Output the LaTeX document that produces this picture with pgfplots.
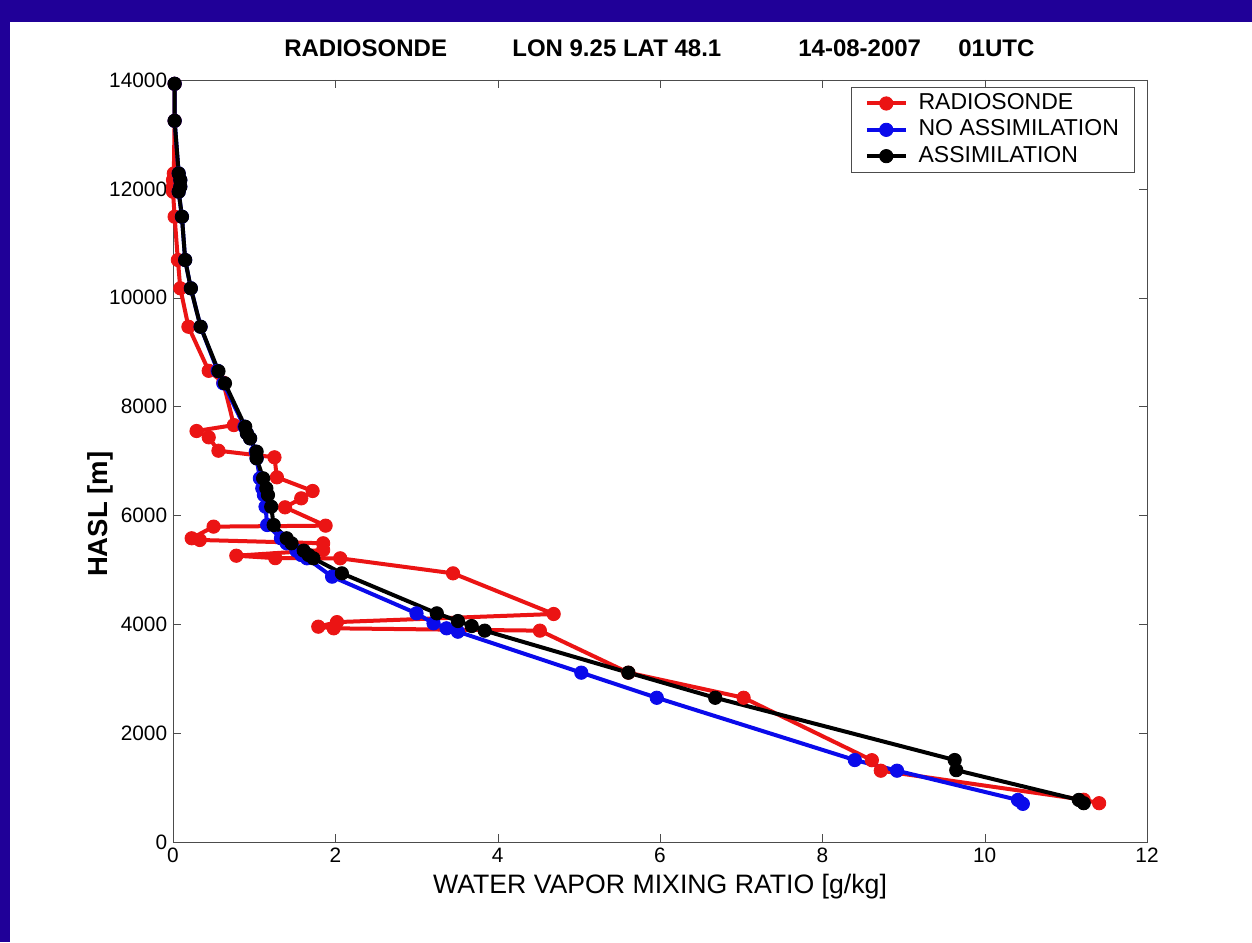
\documentclass[border=0pt]{standalone}
\usepackage{fontspec}
\setmainfont{Liberation Sans}
\usepackage{pgfplots}
\pgfplotsset{compat=1.18}
\definecolor{slideblue}{RGB}{32,0,152}
\definecolor{mred}{RGB}{235,20,20}
\definecolor{mblue}{RGB}{10,10,235}
\begin{document}
\begin{tikzpicture}
\path[use as bounding box] (0pt,0pt) rectangle (751.2pt,565.2pt);
\fill[white] (0pt,0pt) rectangle (751.2pt,565.2pt);
\fill[slideblue] (0pt,552pt) rectangle (751.2pt,565.2pt);
\fill[slideblue] (0pt,0pt) rectangle (6pt,565.2pt);
\begin{axis}[
  at={(103.8pt,60pt)}, anchor=south west,
  scale only axis, width=584.4pt, height=457.2pt,
  xmin=0, xmax=12, ymin=0, ymax=14000,
  xtick={0,2,...,12}, ytick={0,2000,...,14000},
  scaled y ticks=false,
  /pgf/number format/1000 sep={},
  /pgf/number format/assume math mode=true,
  tick label style={font=\fontsize{12.5}{15}\selectfont},
  axis line style={black!70},
  tick style={black!70},
  major tick length=5pt,
  xlabel={WATER VAPOR MIXING RATIO [g/kg]},
  ylabel={\bfseries HASL [m]},
  xlabel style={font=\fontsize{16}{19}\selectfont, at={(axis description cs:0.5,-0.058)}, anchor=center},
  ylabel style={font=\fontsize{16.5}{19}\selectfont, at={(axis description cs:-0.075,0.43)}, anchor=center},
  clip=false,
  legend cell align=left,
  legend style={at={(1,1)}, anchor=north east, xshift=-7.2pt, yshift=-4pt,
    draw=black!70, fill=white, font=\fontsize{13.8}{16}\selectfont,
    nodes={inner sep=1.5pt, text height=10pt, text depth=2.8pt},
    inner xsep=8pt, inner ysep=2pt, column sep=5pt},
  legend image code/.code={\draw[mark repeat=2,mark phase=2] plot coordinates {(0pt,0pt) (11.7pt,0pt) (23.4pt,0pt)};},
  every axis plot/.append style={line width=2.4pt, line join=round, mark=*, mark size=4pt, mark options={solid, line width=0.5pt}},
]
\addplot[color=mred] coordinates {
(11.41,713) (11.22,776) (8.72,1310) (8.61,1503) (7.03,2650) (5.61,3111)
(4.52,3883) (1.98,3926) (1.79,3956) (2.02,4040) (4.69,4189) (3.45,4936)
(2.06,5212) (1.26,5215) (0.78,5260) (1.85,5365) (1.85,5488) (0.33,5549)
(0.23,5580) (0.50,5794) (1.88,5812) (1.38,6149) (1.58,6314) (1.72,6449)
(1.28,6700) (1.25,7068) (0.56,7189) (0.44,7435) (0.29,7551) (0.75,7660)
(0.62,8440) (0.44,8657) (0.19,9467) (0.09,10173) (0.06,10693) (0.02,11488)
(0.00,11948) (0.00,12040) (0.00,12162) (0.01,12283) (0.02,13250) (0.02,13930)
};
\addlegendentry{RADIOSONDE}
\addplot[color=mblue] coordinates {
(10.47,701) (10.41,773) (8.92,1310) (8.40,1506) (5.96,2650) (5.03,3111)
(3.51,3864) (3.37,3926) (3.21,4018) (3.00,4201) (1.96,4875)
(1.65,5212) (1.58,5273) (1.52,5353) (1.40,5488) (1.33,5580) (1.16,5824)
(1.14,6160) (1.12,6375) (1.10,6498) (1.07,6682) (1.03,7049) (1.02,7171)
(0.95,7416) (0.91,7508) (0.88,7630) (0.62,8427) (0.55,8657) (0.34,9467)
(0.22,10173) (0.15,10693) (0.11,11488) (0.07,11948) (0.09,12040) (0.09,12162)
(0.07,12283) (0.02,13250) (0.02,13930)
};
\addlegendentry{NO ASSIMILATION}
\addplot[color=black] coordinates {
(11.22,713) (11.16,773) (9.65,1320) (9.63,1506) (6.68,2650) (5.61,3111)
(3.84,3883) (3.68,3968) (3.51,4060) (3.25,4201) (2.08,4936)
(1.73,5212) (1.67,5273) (1.61,5353) (1.46,5488) (1.40,5580) (1.24,5824)
(1.21,6160) (1.17,6375) (1.15,6498) (1.11,6682) (1.03,7049) (1.03,7171)
(0.95,7416) (0.91,7508) (0.89,7630) (0.64,8427) (0.56,8650) (0.34,9467)
(0.22,10173) (0.15,10693) (0.11,11488) (0.07,11948) (0.09,12040) (0.09,12162)
(0.07,12283) (0.02,13250) (0.02,13930)
};
\addlegendentry{ASSIMILATION}
\end{axis}
\begin{scope}[every node/.style={anchor=base west, inner sep=0pt, font=\bfseries\fontsize{14.4}{17}\selectfont}]
\node at (170.4pt,531pt) {RADIOSONDE};
\node at (307.2pt,531pt) {LON 9.25 LAT 48.1};
\node at (478.8pt,531pt) {14-08-2007};
\node at (574.8pt,531pt) {01UTC};
\end{scope}
\end{tikzpicture}
\end{document}
